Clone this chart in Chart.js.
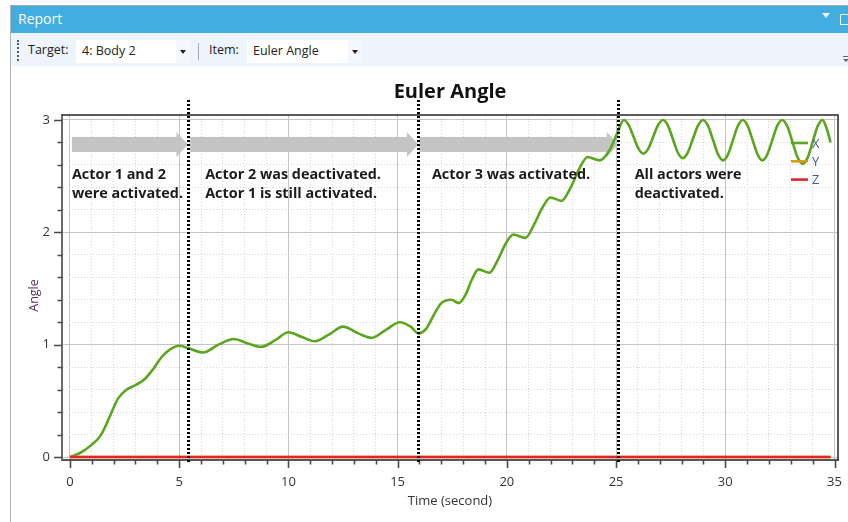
<!DOCTYPE html>
<html>
<head>
<meta charset="utf-8">
<title>Report</title>
<script src="https://cdn.jsdelivr.net/npm/chart.js@4.4.1/dist/chart.umd.min.js"></script>
<style>
  html, body { margin: 0; padding: 0; background: #fff; }
  body { width: 848px; height: 522px; overflow: hidden; position: relative;
         font-family: "Open Sans", "Noto Sans", sans-serif; }
  .abs { position: absolute; }
  #panelEdge { left: 10px; top: 5px; width: 1px; height: 517px; background: #b4b4b4; }
  #titlebar { left: 11px; top: 5px; right: 0; height: 28px; box-sizing: border-box;
              background: #41ade0; border-top: 1px solid #a9a9a9; color: #fff;
              font-size: 14px; line-height: 26px; padding-left: 7px; }
  #tbArrow { left: 822px; top: 13px; width: 0; height: 0; border-left: 4px solid transparent;
             border-right: 4px solid transparent; border-top: 5px solid #eaf6fc; }
  #tbBox { left: 840px; top: 14px; width: 10px; height: 9px; border: 1px solid #eaf6fc; }
  #toolbar { left: 11px; top: 33px; right: 0; height: 33px; background: #edf4fc; }
  #grip { left: 17px; top: 40px; height: 21px; border-left: 2px dotted #5a5a5a; }
  .lbl { font-size: 12.5px; color: #222; line-height: 20px; top: 40px; }
  .combo { top: 40px; height: 23px; background: #fff; font-size: 12.5px; color: #222;
           line-height: 22px; box-sizing: border-box; padding-left: 6px; }
  .combo .drop { position: absolute; right: 0; top: 0; width: 14px; height: 23px; background: #f4f8fc; }
  .combo .drop::after { content: ""; position: absolute; left: 4px; top: 10px; width: 0; height: 0;
           border-left: 3px solid transparent; border-right: 3px solid transparent; border-top: 4px solid #222; }
  #sep { left: 198px; top: 43px; width: 1px; height: 17px; background: #a8a8a8; }
  #more1 { left: 843px; top: 56px; width: 5px; height: 1px; background: #666; }
  #more2 { left: 843px; top: 59px; width: 0; height: 0; border-left: 3px solid transparent;
           border-right: 3px solid transparent; border-top: 3px solid #666; }
  #c { position: absolute; left: 0; top: 0; z-index: 2; }
</style>
</head>
<body>
<div class="abs" id="panelEdge"></div>
<div class="abs" id="titlebar">Report</div>
<div class="abs" id="tbArrow"></div>
<div class="abs" id="tbBox"></div>
<div class="abs" id="toolbar"></div>
<div class="abs" id="grip"></div>
<div class="abs lbl" style="left:28px">Target:</div>
<div class="abs combo" style="left:76px;width:114px">4: Body 2<span class="drop"></span></div>
<div class="abs" id="sep"></div>
<div class="abs lbl" style="left:209px">Item:</div>
<div class="abs combo" style="left:247px;width:115px">Euler Angle<span class="drop"></span></div>
<div class="abs" id="more1"></div>
<div class="abs" id="more2"></div>
<canvas id="c" width="848" height="522"></canvas>
<script>
// Euler angle of Body 2 over time (seconds)
const timeX = [
  0, 0.5, 1.0, 1.4, 1.8, 2.2, 2.6, 3.0, 3.4, 3.8, 4.2, 4.6, 5.0, 5.4,
  6.1, 6.8, 7.5, 8.15, 8.75, 9.4, 10.0, 10.6, 11.2, 11.85, 12.5, 13.2, 13.8,
  14.45, 15.1, 15.6, 15.95, 16.3, 16.7, 17.0, 17.45, 17.8, 18.1, 18.4, 18.7,
  19.2, 19.6, 19.95, 20.3, 20.85, 21.25, 21.6, 22.0, 22.5, 22.9, 23.3, 23.7,
  24.25, 24.7, 25.05, 25.35,
  25.575, 25.8, 26.025, 26.25, 26.475, 26.7, 26.925, 27.15,
  27.375, 27.6, 27.825, 28.05, 28.28, 28.515, 28.75, 28.98,
  29.21, 29.44, 29.67, 29.9, 30.125, 30.35, 30.575, 30.8,
  31.025, 31.25, 31.475, 31.7, 31.925, 32.15, 32.375, 32.6,
  32.84, 33.075, 33.31, 33.55, 33.775, 34.0, 34.225, 34.45,
  34.63, 34.82
];
const angleX = [
  0.00, 0.04, 0.11, 0.19, 0.35, 0.52, 0.60, 0.64, 0.69, 0.78, 0.89, 0.96, 0.99, 0.97,
  0.93, 1.00, 1.05, 1.01, 0.98, 1.04, 1.11, 1.07, 1.03, 1.09, 1.16, 1.10, 1.06,
  1.13, 1.20, 1.16, 1.10, 1.14, 1.28, 1.37, 1.40, 1.37, 1.44, 1.58, 1.67,
  1.64, 1.76, 1.90, 1.98, 1.95, 2.07, 2.21, 2.31, 2.28, 2.39, 2.56, 2.67,
  2.64, 2.73, 2.88, 3.00,
  2.956, 2.85, 2.744, 2.70, 2.744, 2.85, 2.956, 3.00,
  2.95, 2.83, 2.71, 2.66, 2.71, 2.83, 2.95, 3.00,
  2.947, 2.82, 2.693, 2.64, 2.693, 2.82, 2.947, 3.00,
  2.947, 2.82, 2.693, 2.64, 2.693, 2.82, 2.947, 3.00,
  2.943, 2.805, 2.667, 2.61, 2.667, 2.805, 2.943, 3.00,
  2.93, 2.80
];
const timeYZ = [0, 34.82];
const angleY = [0, 0];
const angleZ = [0, 0];

const seriesNames = ['X', 'Y', 'Z'];
const xLabelValues = [0, 5, 10, 15, 20, 25, 30, 35];
const yLabelValues = [0, 1, 2, 3];

// switching instants of the actors, and the notes for each phase
const phaseTimes = [5.4, 15.95, 25.07];
const phaseNotes = [
  ['Actor 1 and 2', 'were activated.'],
  ['Actor 2 was deactivated.', 'Actor 1 is still activated.'],
  ['Actor 3 was activated.'],
  ['All actors were', 'deactivated.']
];

// placement of the overlay marks, in axis units
const overlayLayout = {
  noteX: [0.09, 6.19, 16.57, 25.85],
  noteY: 2.475,
  noteLineGap: 19,
  arrowSpans: [[0.09, 5.4], [5.5, 15.95], [16.0, 25.1]],
  arrowY: 2.782
};

const FONT = '"Open Sans", "Noto Sans", sans-serif';
const pts = (xs, ys) => xs.map((t, i) => ({ x: t, y: ys[i] }));
const near = (v, list) => list.some(k => Math.abs(v - k) < 1e-6);

const overlay = {
  id: 'phaseOverlay',
  beforeDatasetsDraw(chart) {
    const { ctx } = chart;
    const xs = chart.scales.x, ys = chart.scales.y;
    const cy = ys.getPixelForValue(overlayLayout.arrowY);
    ctx.save();
    ctx.fillStyle = '#c4c4c4';
    overlayLayout.arrowSpans.forEach(([a, b]) => {
      const x0 = xs.getPixelForValue(a), x1 = xs.getPixelForValue(b);
      const hb = x1 - 11.5;
      ctx.beginPath();
      ctx.moveTo(x0, cy - 7.5);
      ctx.lineTo(hb, cy - 7.5);
      ctx.lineTo(hb, cy - 12.5);
      ctx.lineTo(x1, cy);
      ctx.lineTo(hb, cy + 12.5);
      ctx.lineTo(hb, cy + 7.5);
      ctx.lineTo(x0, cy + 7.5);
      ctx.closePath();
      ctx.fill();
    });
    ctx.restore();
  },
  afterDatasetsDraw(chart) {
    const { ctx, chartArea } = chart;
    const xs = chart.scales.x, ys = chart.scales.y;
    ctx.save();
    // phase notes
    ctx.font = 'bold 14.4px ' + FONT;
    ctx.fillStyle = '#1b1b1b';
    ctx.textBaseline = 'alphabetic';
    ctx.textAlign = 'left';
    const by = ys.getPixelForValue(overlayLayout.noteY);
    phaseNotes.forEach((lines, i) => {
      const x = xs.getPixelForValue(overlayLayout.noteX[i]);
      lines.forEach((s, j) => ctx.fillText(s, x, by + j * overlayLayout.noteLineGap));
    });
    // legend
    ctx.font = '13px ' + FONT;
    ctx.textBaseline = 'middle';
    chart.data.datasets.forEach((ds, i) => {
      const y = chartArea.top + 28 + i * 18.3;
      ctx.strokeStyle = ds.borderColor;
      ctx.lineWidth = 2.6;
      ctx.beginPath();
      ctx.moveTo(chartArea.right - 47, y);
      ctx.lineTo(chartArea.right - 30, y);
      ctx.stroke();
      ctx.fillStyle = '#3f5f94';
      ctx.fillText(ds.label, chartArea.right - 26, y + 1);
    });
    ctx.restore();
  },
  afterDraw(chart) {
    const { ctx, chartArea } = chart;
    const xs = chart.scales.x, ys = chart.scales.y;
    ctx.save();
    // top and right frame
    ctx.strokeStyle = '#262626';
    ctx.lineWidth = 1.5;
    ctx.beginPath();
    ctx.moveTo(chartArea.left, chartArea.top);
    ctx.lineTo(chartArea.right, chartArea.top);
    ctx.lineTo(chartArea.right, chartArea.bottom);
    ctx.stroke();
    // tick marks, long on labelled values
    ctx.strokeStyle = '#4a4a4a';
    ctx.lineWidth = 1.6;
    ctx.beginPath();
    xs.ticks.forEach(t => {
      const x = Math.round(xs.getPixelForValue(t.value)) + 0.5;
      const len = near(t.value, xLabelValues) ? 8 : 4.5;
      ctx.moveTo(x, chartArea.bottom);
      ctx.lineTo(x, chartArea.bottom + len);
    });
    ys.ticks.forEach(t => {
      const y = Math.round(ys.getPixelForValue(t.value)) + 0.5;
      const len = near(t.value, yLabelValues) ? 8 : 4.5;
      ctx.moveTo(chartArea.left, y);
      ctx.lineTo(chartArea.left - len, y);
    });
    ctx.stroke();
    // y axis title
    ctx.translate(34, (chartArea.top + chartArea.bottom) / 2 + 8);
    ctx.rotate(-Math.PI / 2);
    ctx.font = '12.5px ' + FONT;
    ctx.fillStyle = '#5a2f5c';
    ctx.textAlign = 'center';
    ctx.textBaseline = 'middle';
    ctx.fillText('Angle', 0, 0);
    ctx.setTransform(1, 0, 0, 1, 0, 0);
    // actor switching instants
    ctx.strokeStyle = '#000';
    ctx.lineWidth = 3;
    ctx.setLineDash([2, 2]);
    phaseTimes.forEach(t => {
      const x = Math.round(xs.getPixelForValue(t)) + 0.5;
      ctx.beginPath();
      ctx.moveTo(x, chartArea.top - 15);
      ctx.lineTo(x, chartArea.bottom + 2);
      ctx.stroke();
    });
    ctx.restore();
  }
};

const minorDash = list => ctx => (ctx.tick && !near(ctx.tick.value, list) ? [1, 2] : []);
const gridColor = list => ctx => (ctx.tick && near(ctx.tick.value, list) ? '#c4c4c4' : '#d6d6d6');

new Chart(document.getElementById('c'), {
  type: 'line',
  data: {
    datasets: [
      { label: seriesNames[0], data: pts(timeX, angleX), borderColor: '#5ba51f', borderWidth: 2.6,
        pointRadius: 0, cubicInterpolationMode: 'monotone', order: 2 },
      { label: seriesNames[1], data: pts(timeYZ, angleY), borderColor: '#d99b1a', borderWidth: 2.6,
        pointRadius: 0, order: 1 },
      { label: seriesNames[2], data: pts(timeYZ, angleZ), borderColor: '#e3242b', borderWidth: 2.6,
        pointRadius: 0, order: 0 }
    ]
  },
  options: {
    responsive: false,
    animation: false,
    events: [],
    layout: { padding: { left: 0, right: 6, top: 0, bottom: 0 } },
    plugins: {
      legend: { display: false },
      tooltip: { enabled: false },
      title: {
        display: true, text: 'Euler Angle', fullSize: false, color: '#111',
        font: { family: FONT, size: 20, weight: 'bold' },
        padding: { top: 80, bottom: 11 }
      }
    },
    scales: {
      x: {
        type: 'linear', min: -0.364, max: 35.16,
        afterFit: s => { s.height = 62; },
        ticks: {
          stepSize: 1, autoSkip: false, includeBounds: false, maxRotation: 0, minRotation: 0,
          padding: 6, color: '#333', font: { family: FONT, size: 13 },
          callback: v => (near(v, xLabelValues) ? String(Math.round(v)) : '')
        },
        grid: { color: gridColor(xLabelValues), lineWidth: 1, tickLength: 8, tickColor: 'rgba(0,0,0,0)' },
        border: { color: '#555', width: 2, dash: minorDash(xLabelValues) },
        title: {
          display: true, text: 'Time (second)', color: '#333',
          font: { family: FONT, size: 13 }, padding: { top: 0, bottom: 13 }
        }
      },
      y: {
        min: -0.0267, max: 3.044,
        afterFit: s => { s.width = 62; },
        ticks: {
          stepSize: 0.2, includeBounds: false, autoSkip: false, padding: 4, color: '#333',
          font: { family: FONT, size: 13 },
          callback: v => (near(v, yLabelValues) ? String(Math.round(v)) : '')
        },
        grid: { color: gridColor(yLabelValues), lineWidth: 1, tickLength: 8, tickColor: 'rgba(0,0,0,0)' },
        border: { color: '#6a6a6a', width: 2, dash: minorDash(yLabelValues) }
      }
    }
  },
  plugins: [overlay]
});
</script>
</body>
</html>
